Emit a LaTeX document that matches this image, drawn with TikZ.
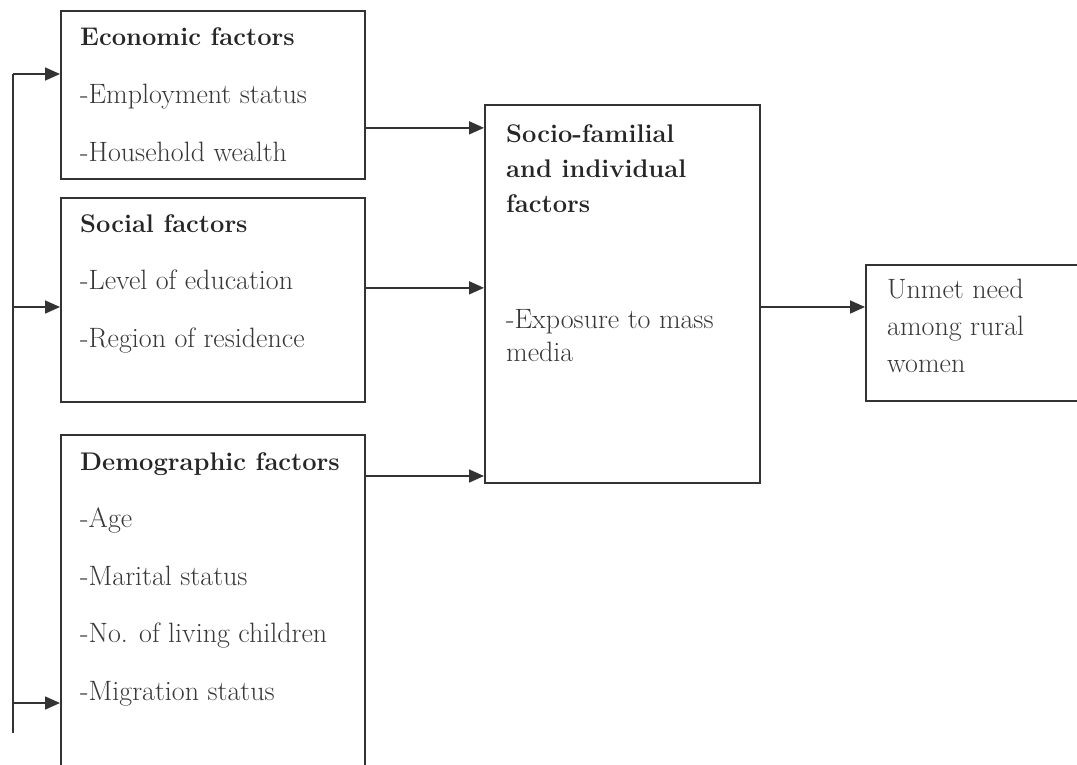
\documentclass[tikz,border=0pt]{standalone}
\usepackage{xcolor}
\usepackage{tikz}
\usetikzlibrary{arrows.meta}

\begin{document}
\begin{tikzpicture}[x=1pt,y=-1pt]
    \tikzset{box/.style = {shape=rectangle,draw=black!80,line width=1.7pt,anchor=north west,inner sep=0pt}}
    \tikzset{head/.style = {anchor=base west,inner sep=0pt,text=black!85,font=\fontsize{25.5}{30}\selectfont\bfseries}}
    \tikzset{item/.style = {anchor=base west,inner sep=0pt,text=black!78,font=\fontsize{28}{32}\selectfont}}
    \tikzset{edge/.style = {draw=black!80,line width=1.7pt}}
    \tikzset{arr/.style = {edge,-{Triangle[length=15pt,width=13pt]}}}

    \useasboundingbox (0,0) rectangle (1077,764);
    \clip (0,0) rectangle (1077,764);

    % boxes
    \node[box,minimum width=304pt,minimum height=168pt] (eco) at (60,10) {};
    \node[box,minimum width=304pt,minimum height=204pt] (soc) at (60,197) {};
    \node[box,minimum width=304pt,minimum height=360pt] (demo) at (60,434) {};
    \node[box,minimum width=275pt,minimum height=378pt] (socio) at (484,104) {};
    \node[box,minimum width=260pt,minimum height=136pt] (unmet) at (865,264) {};

    % texts
    \node[head] (ecoh) at (80,45) {Economic factors};
    \foreach \t [count=\i] in {-Employment status,-Household wealth}
    {
      \node[item] (eco\i) at (80,45+58*\i) {\t};
    }
    \node[head] (soch) at (80,232) {Social factors};
    \foreach \t [count=\i] in {-Level of education,-Region of residence}
    {
      \node[item] (soc\i) at (80,232+57.5*\i) {\t};
    }
    \node[head] (demoh) at (80,470) {Demographic factors};
    \foreach \t [count=\i] in {-Age,-Marital status,-No. of living children,-Migration status}
    {
      \node[item] (demo\i) at (80,470+57.5*\i) {\t};
    }
    \foreach \t [count=\i] in {Socio-familial,and individual,factors}
    {
      \node[head] (socioh\i) at (506,107+35*\i) {\t};
    }
    \node[item] (socio1) at (506,328) {-Exposure to mass};
    \node[item] (socio2) at (506,361) {media};
    \foreach \t [count=\i] in {Unmet need,among rural,women}
    {
      \node[item] (unmet\i) at (887,261+37*\i) {\t};
    }

    % feedback line on the left
    \coordinate (l1) at (13,74);
    \coordinate (l2) at (13,307);
    \coordinate (l3) at (13,703);
    \coordinate (lend) at (13,733);
    \draw[edge] (l1) to (lend);
    \foreach \y/\b in {l1/eco,l2/soc,l3/demo} {\draw[arr] (\y) to (\y -| \b.west);}

    % arrows into the middle box
    \coordinate (e1) at ([yshift=-33pt]eco.east);
    \coordinate (e2) at ([yshift=12pt]soc.east);
    \coordinate (e3) at ([yshift=-42pt]demo.north east);
    \foreach \y in {e1,e2,e3} {\draw[arr] (\y) to (\y -| socio.west);}

    % arrow to the outcome
    \coordinate (s2u) at ([yshift=-43pt]unmet.north west);
    \draw[arr] (socio.east |- s2u) to (s2u);

  \end{tikzpicture}
\end{document}
